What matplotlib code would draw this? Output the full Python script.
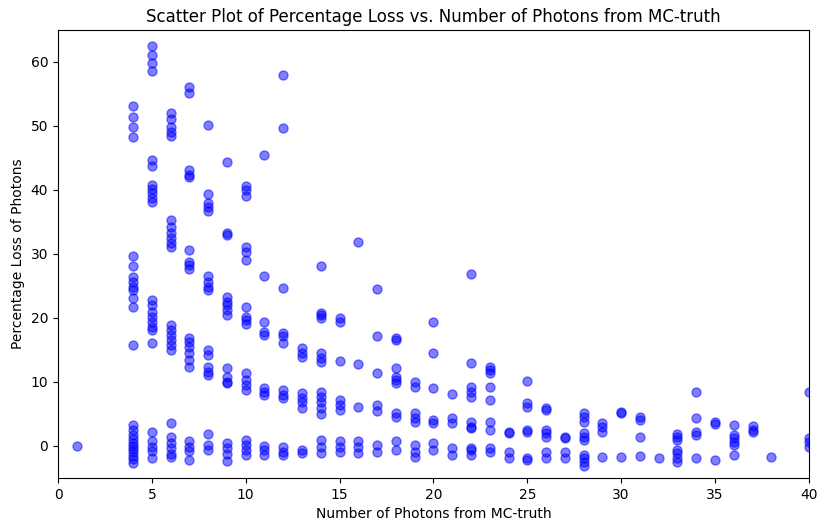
import numpy as np
import matplotlib.pyplot as plt

# percentage loss values grouped by the MC-truth photon count
loss_by_n = {
    1: [0.0],
    4: [53.1, 51.4, 49.8, 48.3,
        29.7, 28.1, 26.4, 25.6, 24.8, 24.4, 23.1, 21.7, 15.8,
        3.3, 2.5, 1.7, 1.0, 0.5, 0.0, -0.5, -1.0, -1.6, -2.1, -2.7],
    5: [62.5, 61.1, 59.8, 58.6,
        44.7, 43.7, 40.8, 40.2, 39.5, 38.8, 38.1,
        22.8, 22.0, 20.9, 20.2, 19.4, 18.6, 18.1, 16.1,
        2.1, 0.7, -0.1, -0.8, -1.9],
    6: [52.0, 51.0, 49.8, 49.1, 48.4,
        35.3, 34.2, 33.3, 32.5, 31.7, 31.1,
        18.9, 18.1, 17.3, 16.6, 15.8, 15.0,
        3.5, 1.4, 0.4, -0.4, -1.2, -1.7],
    7: [56.0, 55.1, 43.1, 42.3, 42.0,
        30.6, 28.8, 28.3, 27.7,
        16.9, 16.3, 15.5, 14.5, 13.4, 12.3,
        0.7, -0.1, -0.8, -2.2],
    8: [50.2, 39.4, 38.0, 37.3, 36.7,
        26.6, 25.6, 24.8, 24.4,
        15.0, 14.2, 12.3, 11.6, 11.1,
        1.9, 0.1, -0.6],
    9: [44.4, 33.3, 33.0,
        23.3, 22.5, 22.0, 21.3, 20.5,
        12.2, 10.8, 10.0, 9.8,
        0.4, -0.4, -1.2, -2.3],
    10: [40.6, 40.0, 39.1, 31.1, 30.3, 29.1,
         21.7, 20.2, 19.7, 19.1,
         11.4, 10.3, 9.5, 8.8,
         0.9, 0.2, -0.6, -1.4],
    11: [45.5, 26.6, 19.4, 17.8, 17.3,
         9.1, 8.4, 8.0,
         0.0, -0.6, -1.4],
    12: [58.0, 49.7, 24.7, 17.7, 17.2, 16.1,
         8.8, 8.0, 7.5,
         -0.1, -0.9, -1.4],
    13: [15.3, 14.5, 13.9, 8.3, 7.5, 6.9, 5.9,
         -0.6, -1.1],
    14: [28.1, 20.8, 20.5, 20.0, 14.5, 13.8, 13.1,
         8.4, 7.7, 6.9, 5.9, 5.0,
         0.9, -0.1, -1.1],
    15: [20.0, 19.4, 13.3, 7.2, 6.4, 5.6,
         0.7, -0.1, -0.9],
    16: [31.9, 12.8, 6.1, 0.7, -0.1, -1.1],
    17: [24.5, 17.2, 11.4, 6.4, 5.5, 0.2, -0.9],
    18: [16.9, 16.6, 12.2, 10.8, 10.3, 9.8, 5.2, 4.5, 0.7, -0.6],
    19: [10.0, 9.2, 5.2, 4.4, 3.8, 0.2, -0.9, -1.7],
    20: [19.4, 14.5, 9.1, 4.1, 3.6, 0.4, -0.6],
    21: [8.1, 4.4, 3.6, -0.3, -1.4],
    22: [26.9, 13.0, 9.2, 8.4, 7.7, 3.8, 3.0, 2.8, -0.3, -0.6, -1.4],
    23: [12.4, 11.9, 11.4, 9.2, 7.2, 3.8, 2.5, -0.3, -0.9],
    24: [2.2, 2.0, -0.9, -1.9],
    25: [10.2, 6.7, 6.1, 2.5, 2.2, -1.9, -2.2],
    26: [5.9, 5.6, 2.5, 2.0, 1.4, -0.9, -1.9],
    27: [1.4, 1.2, -0.9, -1.9],
    28: [5.2, 4.5, 3.8, 2.0, 1.4, 0.9, -1.4, -1.9, -2.5, -3.1],
    29: [3.6, 3.0, 2.2, -1.7],
    30: [5.3, 5.2, -1.7],
    31: [4.5, 4.1, 1.4, -1.6],
    32: [-1.9],
    33: [1.9, 1.4, 0.9, -0.6, -1.1, -1.9, -2.5],
    34: [8.4, 4.4, 2.2, 1.7, -1.9],
    35: [3.8, 3.4, -2.2],
    36: [3.3, 1.7, 1.2, 0.6, 0.2, -1.4],
    37: [3.1, 2.5, 2.2],
    38: [-1.7],
    40: [8.4, 1.2, 0.6, -0.2],
}

n_photons = []
pct_loss = []
for n, losses in loss_by_n.items():
    n_photons += [n] * len(losses)
    pct_loss += losses
n_photons = np.array(n_photons)
pct_loss = np.array(pct_loss)

fig = plt.figure(figsize=(8.17, 5.24), dpi=100)
ax = fig.add_subplot(111)
fig.subplots_adjust(left=0.071, right=0.990, top=0.943, bottom=0.088)

ax.scatter(n_photons, pct_loss, color='blue', alpha=0.5, s=42)
ax.set_xlim(0, 40)
ax.set_ylim(-5, 65)
ax.set_title('Scatter Plot of Percentage Loss vs. Number of Photons from MC-truth', fontsize=12)
ax.set_xlabel('Number of Photons from MC-truth', fontsize=10)
ax.set_ylabel('Percentage Loss of Photons', fontsize=10)
ax.tick_params(labelsize=10)

plt.savefig('out.png', dpi=100)
